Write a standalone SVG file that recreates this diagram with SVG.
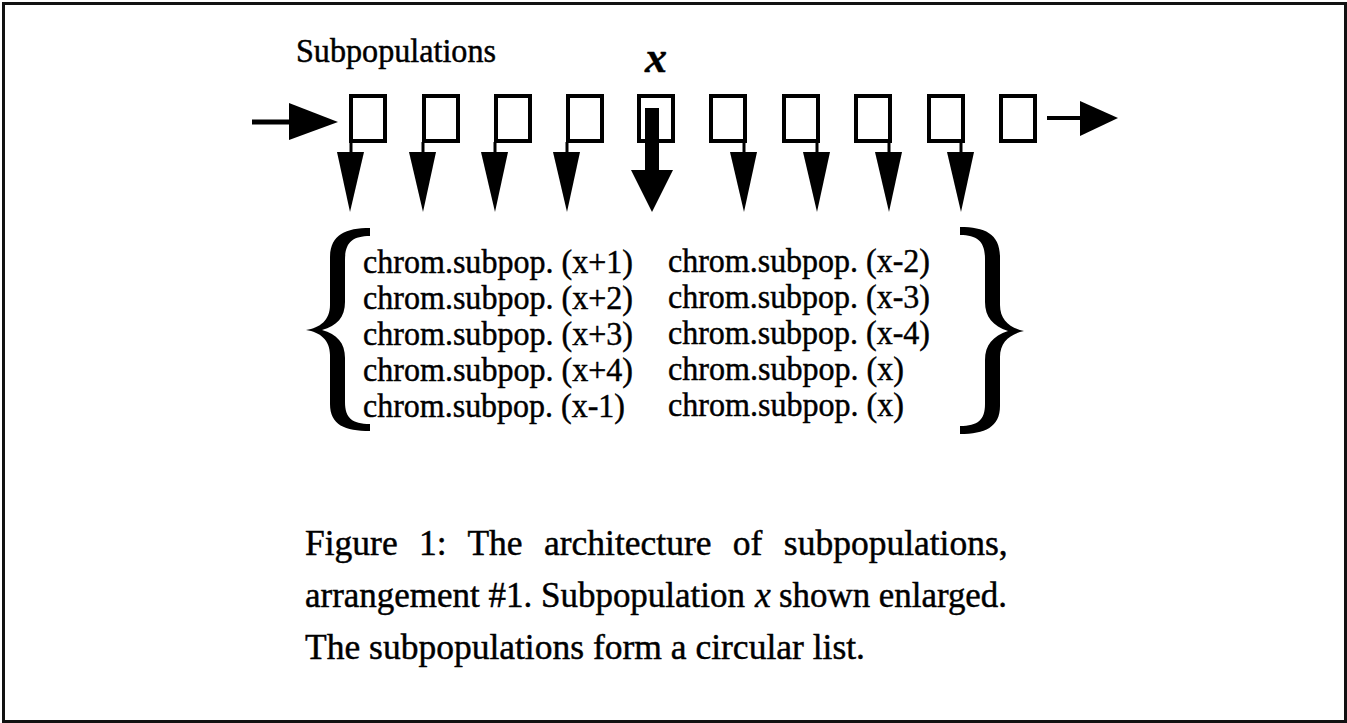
<svg xmlns="http://www.w3.org/2000/svg" width="1347" height="723" viewBox="0 0 1347 723">
<style>
.box{fill:none;stroke:#000;stroke-width:4}
.t{font-family:"Liberation Serif","Times New Roman",serif;fill:#000;stroke:#000;stroke-width:0.45}
.row{font-size:34px}
.cap{font-size:35.5px}
.head{fill:#000}
.stem{stroke:#000;stroke-width:3;fill:none}
</style>
<rect x="0" y="0" width="1347" height="723" fill="#fff"/>
<rect x="3.5" y="3.5" width="1342" height="718" fill="none" stroke="#111" stroke-width="3"/>
<g id="labels">
<text class="t" x="296" y="62" font-size="33" textLength="200" lengthAdjust="spacingAndGlyphs">Subpopulations</text>
<text class="t" x="645" y="72" font-size="44" font-style="italic" font-weight="bold">x</text>
</g>
<g id="sub1"><rect class="box" x="351" y="96" width="34" height="45"/></g>
<g id="sub2"><rect class="box" x="424" y="96" width="34" height="45"/></g>
<g id="sub3"><rect class="box" x="496" y="96" width="34" height="45"/></g>
<g id="sub4"><rect class="box" x="568" y="96" width="34" height="45"/></g>
<g id="subx"><rect class="box" x="639" y="96" width="34" height="45"/></g>
<g id="sub6"><rect class="box" x="711" y="96" width="34" height="45"/></g>
<g id="sub7"><rect class="box" x="784" y="96" width="34" height="45"/></g>
<g id="sub8"><rect class="box" x="856" y="96" width="34" height="45"/></g>
<g id="sub9"><rect class="box" x="929" y="96" width="34" height="45"/></g>
<g id="sub10"><rect class="box" x="1001" y="96" width="34" height="45"/></g>
<g id="connectors">
<line x1="252" y1="122" x2="295" y2="122" stroke="#000" stroke-width="5"/>
<polygon class="head" points="289,103 338,122 289,140"/>
<line x1="1047" y1="118" x2="1085" y2="118" stroke="#000" stroke-width="4"/>
<polygon class="head" points="1080,101 1118,118 1080,136"/>
<path class="stem" d="M351,142 L351,154"/>
<polygon class="head" points="337,152 364,152 350,212"/>
<path class="stem" d="M423,142 L423,154"/>
<polygon class="head" points="409,152 436,152 423,212"/>
<path class="stem" d="M495,142 L495,154"/>
<polygon class="head" points="481,152 508,152 495,212"/>
<path class="stem" d="M567,142 L567,154"/>
<polygon class="head" points="553,152 580,152 567,212"/>
<rect x="645" y="108" width="14" height="64" fill="#000"/>
<polygon class="head" points="631,170 673,170 652,212"/>
<path class="stem" d="M744,142 L744,154"/>
<polygon class="head" points="730,152 757,152 744,212"/>
<path class="stem" d="M817,142 L817,154"/>
<polygon class="head" points="803,152 830,152 817,212"/>
<path class="stem" d="M889,142 L889,154"/>
<polygon class="head" points="875,152 902,152 889,212"/>
<path class="stem" d="M961,142 L961,154"/>
<polygon class="head" points="947,152 974,152 961,212"/>
</g>
<g id="enlarged">
<path fill="#000" d="M370,228 C345,228 330,235 330,258 L330,305 C330,320 320,328 306,330 C320,332 330,340 330,355 L330,404 C330,425 345,431 370,431 L370,424 C352,424 345,418 345,402 L345,358 C345,343 337,334 322,330 C337,326 345,317 345,302 L345,260 C345,243 352,236 370,236 Z"/>
<path fill="#000" d="M960,227 C985,227 1000,234 1000,257 L1000,305 C1000,320 1010,328 1024,331 C1010,334 1000,342 1000,357 L1000,406 C1000,427 985,434 960,434 L960,426 C978,426 985,420 985,404 L985,360 C985,345 993,336 1008,331 C993,326 985,317 985,302 L985,259 C985,242 978,235 960,235 Z"/>
<text class="t row" x="363" y="273" textLength="270" lengthAdjust="spacingAndGlyphs">chrom.subpop. (x+1)</text>
<text class="t row" x="363" y="309" textLength="270" lengthAdjust="spacingAndGlyphs">chrom.subpop. (x+2)</text>
<text class="t row" x="363" y="345" textLength="270" lengthAdjust="spacingAndGlyphs">chrom.subpop. (x+3)</text>
<text class="t row" x="363" y="381" textLength="270" lengthAdjust="spacingAndGlyphs">chrom.subpop. (x+4)</text>
<text class="t row" x="363" y="417" textLength="262" lengthAdjust="spacingAndGlyphs">chrom.subpop. (x-1)</text>
<text class="t row" x="668" y="272" textLength="262" lengthAdjust="spacingAndGlyphs">chrom.subpop. (x-2)</text>
<text class="t row" x="668" y="308" textLength="262" lengthAdjust="spacingAndGlyphs">chrom.subpop. (x-3)</text>
<text class="t row" x="668" y="344" textLength="262" lengthAdjust="spacingAndGlyphs">chrom.subpop. (x-4)</text>
<text class="t row" x="668" y="380" textLength="236" lengthAdjust="spacingAndGlyphs">chrom.subpop. (x)</text>
<text class="t row" x="668" y="416" textLength="236" lengthAdjust="spacingAndGlyphs">chrom.subpop. (x)</text>
</g>
<g id="caption">
<text class="t cap" x="305" y="555" word-spacing="12.5">Figure 1: The architecture of subpopulations,</text>
<text class="t cap" x="305" y="607" textLength="440" lengthAdjust="spacingAndGlyphs">arrangement #1. Subpopulation</text>
<text class="t cap" x="755" y="607" font-style="italic">x</text>
<text class="t cap" x="779" y="607" textLength="228" lengthAdjust="spacingAndGlyphs">shown enlarged.</text>
<text class="t cap" x="305" y="659">The subpopulations form a circular list.</text>
</g>
</svg>
